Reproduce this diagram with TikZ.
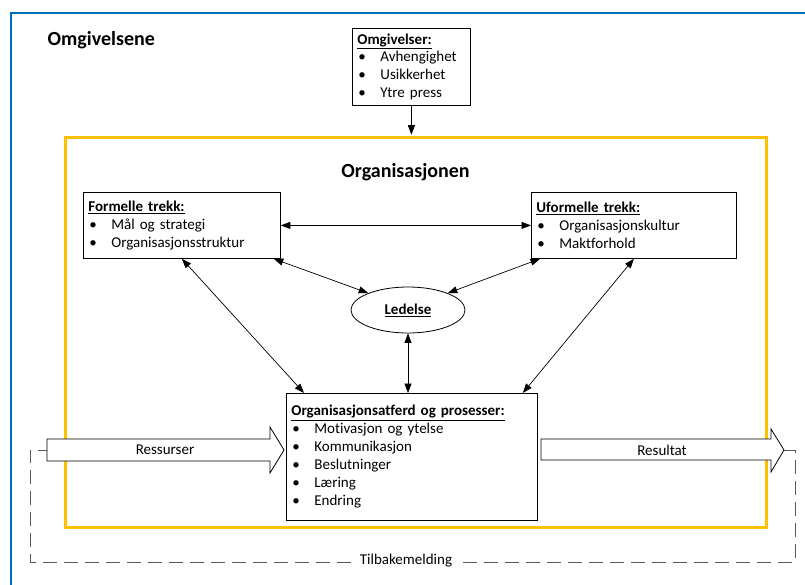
\documentclass[tikz,border=0pt]{standalone}
\usepackage{fontspec}
\setmainfont{Carlito}[Ligatures=NoCommon]
\usetikzlibrary{arrows.meta,calc,shapes.geometric}
\definecolor{frameblue}{HTML}{0070C0}
\definecolor{frameyellow}{HTML}{FFC000}
\definecolor{loopgray}{HTML}{595959}
% bullet line and underlined bold heading used inside the boxes
\newcommand{\bpt}[1]{\makebox[23pt][l]{\hspace{1pt}\textbullet}#1}
\newcommand{\hdr}[1]{\underline{\textbf{#1}}}

\begin{document}
\begin{tikzpicture}[x=1pt,y=-1pt,
  txt/.style={font=\fontsize{15}{18}\selectfont},
  infobox/.style={draw=black, line width=0.8pt, fill=white, anchor=north west,
    align=left, inner xsep=5pt, inner ysep=0pt, txt},
  tiphead/.tip={Triangle[length=9.5pt,width=7pt]},
  link/.style={line width=0.7pt, tiphead-tiphead},
  onelink/.style={line width=0.7pt, -tiphead},
  bigarrow/.style={draw=black, line width=0.8pt, fill=white, line join=miter},
  title/.style={font=\fontsize{20}{24}\selectfont\bfseries, inner sep=0pt},
  feedback/.style={draw=loopgray, line width=1pt, dash pattern=on 14pt off 7pt},
]
\useasboundingbox (0,0) rectangle (805,584);
\clip (0,0) rectangle (805,584);
\fill[white] (0,0) rectangle (805,584);

% environment frame
\draw[frameblue, line width=2.5pt] (11,13) rectangle (830,610);
\node[title, anchor=base west] (omgtitle) at (47.5,45.7) {Omgivelsene};

% organisation frame
\node[draw=frameyellow, line width=2.5pt, anchor=north west, inner sep=0pt,
  minimum width=701pt, minimum height=390pt] (orgframe) at (64,136) {};
\node[title, anchor=base] (orgtitle) at (405.5,177) {Organisasjonen};

% feedback loop
\coordinate (loopleft) at (47,450);
\coordinate (loopright) at (784,450);
\draw[feedback] (loopright) -- (795,450) -- (795,562) -- (30,562) -- (30,450) -- (loopleft);
\node[txt, fill=white, inner xsep=9pt, inner ysep=1pt] (tilbake) at (406,561) {Tilbakemelding};

% boxes
\node[infobox, text width=108pt, minimum height=77pt] (omg) at (352,28)
  {\fontsize{15}{17.4}\selectfont
   \hdr{Omgivelser:}\\ \bpt{Avhengighet}\\ \bpt{Usikkerhet}\\ \bpt{Ytre press}};
\node[infobox, text width=187pt, minimum height=66pt] (formelle) at (83,192)
  {\hdr{Formelle trekk:}\\ \bpt{Mål og strategi}\\ \bpt{Organisasjonsstruktur}};
\node[infobox, text width=195pt, minimum height=66pt] (uformelle) at (531,192)
  {\hdr{Uformelle trekk:}\\ \bpt{Organisasjonskultur}\\ \bpt{Maktforhold}};
\node[infobox, text width=241pt, minimum height=127pt] (org) at (286,393)
  {\hdr{Organisasjonsatferd og prosesser:}\\ \bpt{Motivasjon og ytelse}\\
   \bpt{Kommunikasjon}\\ \bpt{Beslutninger}\\ \bpt{Læring}\\ \bpt{Endring}};
\node[draw=black, line width=0.8pt, fill=white, ellipse, inner sep=0pt,
  minimum width=114pt, minimum height=46pt, txt] (ledelse) at (408,310) {\hdr{Ledelse}};

% input and output arrows
\draw[bigarrow] (loopleft |- 0,439) -- (270,439) -- (270,427) -- (284,450)
  -- (270,473) -- (270,461) -- (loopleft |- 0,461) -- cycle;
\node[txt, inner sep=0pt] (ressurser) at (165,450) {Ressurser};
\draw[bigarrow] (541,439) -- (771,439) -- (771,429) -- (loopright)
  -- (771,472) -- (771,460) -- (541,460) -- cycle;
\node[txt, inner sep=0pt] (resultat) at (662,450) {Resultat};

% connectors
\draw[onelink, shorten >=1.3pt] (omg.south) -- (omg.south |- orgframe.north);
\draw[link] (formelle.east) -- (uformelle.west);
\draw[link] ($(formelle.south east)+(-7,0)$) -- (ledelse.157);
\draw[link] ($(uformelle.south west)+(9,0)$) -- (ledelse.23);
\draw[link] (formelle.south) -- ($(org.north west)+(18,0)$);
\draw[link] (uformelle.south) -- ($(org.north east)+(-15,0)$);
\draw[link] (ledelse.south) -- (ledelse.south |- org.north);
\end{tikzpicture}
\end{document}
